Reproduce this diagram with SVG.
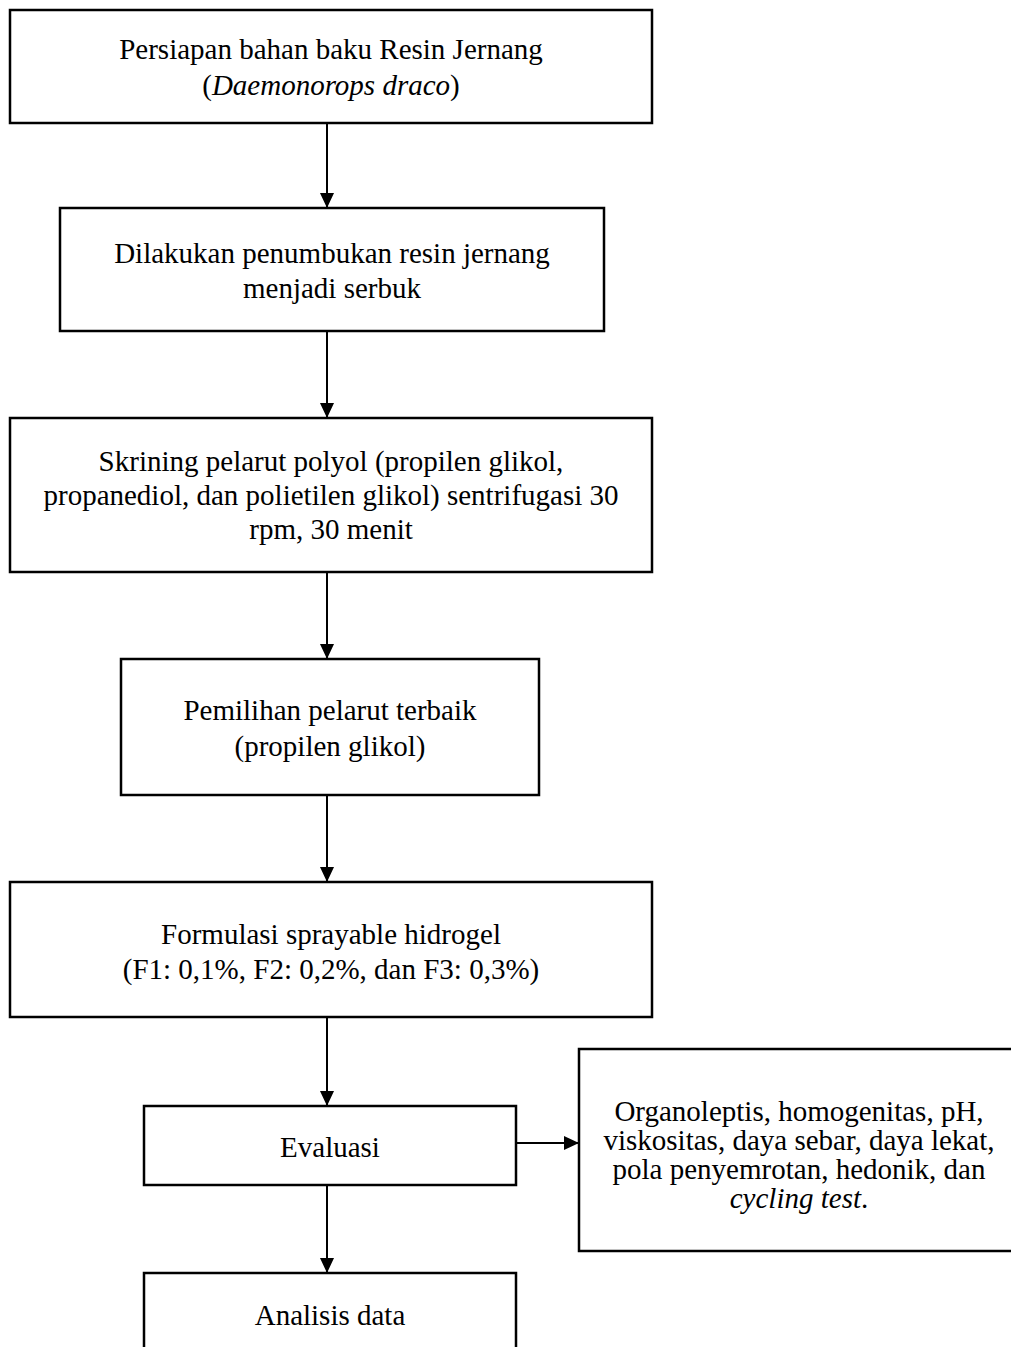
<svg xmlns="http://www.w3.org/2000/svg" width="1011" height="1347" viewBox="0 0 1011 1347">
<style>
.box{fill:#fff;stroke:#000;stroke-width:2.5}
.t{font-family:"Liberation Serif","Times New Roman",serif;font-size:29px;fill:#000;text-anchor:middle}
.i{font-style:italic}
.c{stroke:#000;stroke-width:2;fill:none}
</style>
<defs>
<marker id="ah" markerUnits="userSpaceOnUse" markerWidth="16" markerHeight="14" refX="15" refY="7" orient="auto">
<path d="M0,0 L15,7 L0,14 Z" fill="#000"/>
</marker>
</defs>
<rect width="1011" height="1347" fill="#fff"/>
<g id="connectors">
<line class="c" x1="327" y1="123" x2="327" y2="208" marker-end="url(#ah)"/>
<line class="c" x1="327" y1="331" x2="327" y2="418" marker-end="url(#ah)"/>
<line class="c" x1="327" y1="572" x2="327" y2="659" marker-end="url(#ah)"/>
<line class="c" x1="327" y1="795" x2="327" y2="882" marker-end="url(#ah)"/>
<line class="c" x1="327" y1="1017" x2="327" y2="1106" marker-end="url(#ah)"/>
<line class="c" x1="327" y1="1185" x2="327" y2="1273" marker-end="url(#ah)"/>
<line class="c" x1="516" y1="1143" x2="579" y2="1143" marker-end="url(#ah)"/>
</g>
<g id="n1">
<rect class="box" x="10" y="10" width="642" height="113"/>
<text class="t" x="331" y="59">Persiapan bahan baku Resin Jernang</text>
<text class="t" x="331" y="95">(<tspan class="i">Daemonorops draco</tspan>)</text>
</g>
<g id="n2">
<rect class="box" x="60" y="208" width="544" height="123"/>
<text class="t" x="332" y="263">Dilakukan penumbukan resin jernang</text>
<text class="t" x="332" y="298">menjadi serbuk</text>
</g>
<g id="n3">
<rect class="box" x="10" y="418" width="642" height="154"/>
<text class="t" x="331" y="471">Skrining pelarut polyol (propilen glikol,</text>
<text class="t" x="331" y="505">propanediol, dan polietilen glikol) sentrifugasi 30</text>
<text class="t" x="331" y="539">rpm, 30 menit</text>
</g>
<g id="n4">
<rect class="box" x="121" y="659" width="418" height="136"/>
<text class="t" x="330" y="720">Pemilihan pelarut terbaik</text>
<text class="t" x="330" y="756">(propilen glikol)</text>
</g>
<g id="n5">
<rect class="box" x="10" y="882" width="642" height="135"/>
<text class="t" x="331" y="944">Formulasi sprayable hidrogel</text>
<text class="t" x="331" y="979">(F1: 0,1%, F2: 0,2%, dan F3: 0,3%)</text>
</g>
<g id="n6">
<rect class="box" x="144" y="1106" width="372" height="79"/>
<text class="t" x="330" y="1157">Evaluasi</text>
</g>
<g id="n7">
<rect class="box" x="579" y="1049" width="442" height="202"/>
<text class="t" x="799" y="1121">Organoleptis, homogenitas, pH,</text>
<text class="t" x="799" y="1150">viskositas, daya sebar, daya lekat,</text>
<text class="t" x="799" y="1179">pola penyemrotan, hedonik, dan</text>
<text class="t" x="799" y="1208"><tspan class="i">cycling test</tspan>.</text>
</g>
<g id="n8">
<rect class="box" x="144" y="1273" width="372" height="100"/>
<text class="t" x="330" y="1325">Analisis data</text>
</g>
</svg>
